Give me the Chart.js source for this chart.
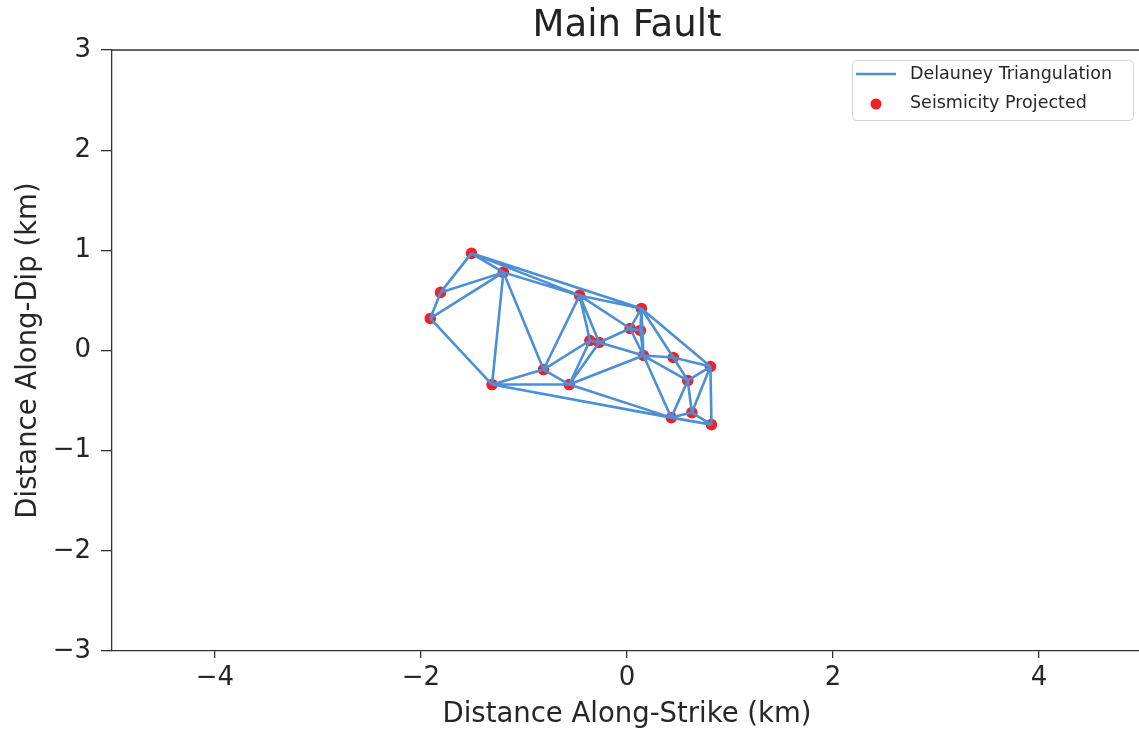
<!DOCTYPE html>
<html>
<head>
<meta charset="utf-8">
<title>Main Fault</title>
<script src="https://cdn.jsdelivr.net/npm/chart.js@4.4.1/dist/chart.umd.min.js"></script>
<style>
  html, body { margin:0; padding:0; background:#fff; overflow:hidden; }
  canvas { display:block; }
</style>
</head>
<body>
<canvas id="chart-fault" width="1150" height="731"></canvas>
<script>
// projected event locations (km)
const eventX = [-1.51, -1.20, -1.81, -1.91, -1.31, -0.81, -0.56, -0.46, -0.36, -0.27,
                 0.14,  0.03,  0.13,  0.16,  0.45,  0.81,  0.59,  0.63,  0.43,  0.82];
const eventY = [ 0.97,  0.78,  0.58,  0.32, -0.34, -0.19, -0.34,  0.55,  0.10,  0.08,
                 0.42,  0.22,  0.20, -0.05, -0.07, -0.16, -0.30, -0.62, -0.67, -0.74];

// triangle edges, as index pairs into the event arrays
const edges = [
  [0,1],[0,2],[1,2],[2,3],[1,3],[3,4],[1,4],[1,5],[4,5],[5,6],[4,6],[4,18],[6,18],
  [0,7],[0,10],[1,7],[7,10],[5,7],[5,8],[7,8],[7,9],[8,9],[6,8],[6,9],[7,11],[9,11],
  [9,13],[6,13],[10,11],[10,12],[11,12],[11,13],[12,13],[10,13],[10,14],[10,15],
  [13,14],[14,15],[14,16],[13,16],[13,18],[16,18],[15,16],[16,17],[15,17],[17,18],
  [17,19],[18,19],[15,19]
];

const xTicks = [-4, -2, 0, 2, 4];
const yTicks = [-3, -2, -1, 0, 1, 2, 3];

const LINE_COLOR = '#4b8fd6';
const DOT_COLOR = '#ee2229';
const INK = '#262626';
const SPINE = '#333';

Chart.defaults.font.family = "'DejaVu Sans', sans-serif";
Chart.defaults.color = INK;

// one polyline with NaN breaks so each edge is its own segment
const edgeData = [];
edges.forEach(([a, b]) => {
  edgeData.push({ x: eventX[a], y: eventY[a] });
  edgeData.push({ x: eventX[b], y: eventY[b] });
  edgeData.push({ x: NaN, y: NaN });
});
const pointData = eventX.map((x, i) => ({ x, y: eventY[i] }));

const minus = v => v < 0 ? '\u2212' + Math.abs(v) : String(v);

// title centred over the plot, top spine and the legend box
const frame = {
  id: 'frame',
  afterDraw(chart){
    const { ctx, chartArea:a } = chart;
    ctx.save();
    ctx.fillStyle = '#222';
    ctx.font = "37px 'DejaVu Sans', sans-serif";
    ctx.textAlign = 'center';
    ctx.textBaseline = 'middle';
    ctx.fillText('Main Fault', (a.left + a.right) / 2, 26);

    ctx.strokeStyle = SPINE;
    ctx.lineWidth = 1.3;
    ctx.beginPath();
    ctx.moveTo(a.left, a.top);
    ctx.lineTo(a.right, a.top);
    ctx.stroke();

    const bx = a.right - 290, by = a.top + 10, bw = 281, bh = 60;
    ctx.fillStyle = 'rgba(255,255,255,0.85)';
    ctx.strokeStyle = '#d4d4d4';
    ctx.lineWidth = 1;
    ctx.beginPath();
    ctx.roundRect(bx + 0.5, by + 0.5, bw, bh, 4);
    ctx.fill();
    ctx.stroke();

    ctx.strokeStyle = LINE_COLOR;
    ctx.lineWidth = 2.6;
    ctx.beginPath();
    ctx.moveTo(bx + 4, by + 14);
    ctx.lineTo(bx + 44, by + 14);
    ctx.stroke();

    ctx.fillStyle = DOT_COLOR;
    ctx.beginPath();
    ctx.arc(bx + 24, by + 44, 5.5, 0, Math.PI * 2);
    ctx.fill();

    ctx.fillStyle = INK;
    ctx.font = "17.5px 'DejaVu Sans', sans-serif";
    ctx.textAlign = 'left';
    ctx.fillText(chart.data.datasets[0].label, bx + 58, by + 14);
    ctx.fillText(chart.data.datasets[1].label, bx + 58, by + 43);
    ctx.restore();
  }
};

new Chart(document.getElementById('chart-fault'), {
  type: 'scatter',
  data: {
    datasets: [{
      label: 'Delauney Triangulation',
      data: edgeData,
      showLine: true,
      spanGaps: false,
      borderColor: LINE_COLOR,
      borderWidth: 2.6,
      pointRadius: 0,
      order: 0
    }, {
      label: 'Seismicity Projected',
      data: pointData,
      backgroundColor: DOT_COLOR,
      borderWidth: 0,
      pointRadius: 5.8,
      order: 1
    }]
  },
  options: {
    responsive: false,
    animation: false,
    layout: { padding: { left: 0, right: 8, top: 50, bottom: 0 } },
    plugins: {
      legend: { display: false },
      tooltip: { enabled: false },
      title: { display: false }
    },
    scales: {
      x: {
        type: 'linear',
        min: -5, max: 5,
        afterFit: s => { s.height = 80; },
        afterBuildTicks: s => { s.ticks = xTicks.map(v => ({ value: v })); },
        grid: { display: true, drawOnChartArea: false, drawTicks: true, tickLength: 7, color: SPINE, lineWidth: 1.3 },
        border: { display: true, color: SPINE, width: 1.3 },
        ticks: { font: { size: 26 }, color: INK, padding: 5, callback: minus, maxRotation: 0 },
        title: { display: true, text: 'Distance Along-Strike (km)', font: { size: 27.5 }, color: INK, padding: { top: 2, bottom: 0 } }
      },
      y: {
        type: 'linear',
        min: -3, max: 3,
        afterFit: s => { s.width = 112; },
        afterBuildTicks: s => { s.ticks = yTicks.map(v => ({ value: v })); },
        grid: { display: true, drawOnChartArea: false, drawTicks: true, tickLength: 11, color: SPINE, lineWidth: 1.3 },
        border: { display: true, color: SPINE, width: 1.3 },
        ticks: { font: { size: 26 }, color: INK, padding: 10, callback: minus },
        title: { display: true, text: 'Distance Along-Dip (km)', font: { size: 27.5 }, color: INK, padding: { top: 12, bottom: 0 } }
      }
    }
  },
  plugins: [frame]
});
</script>
</body>
</html>
